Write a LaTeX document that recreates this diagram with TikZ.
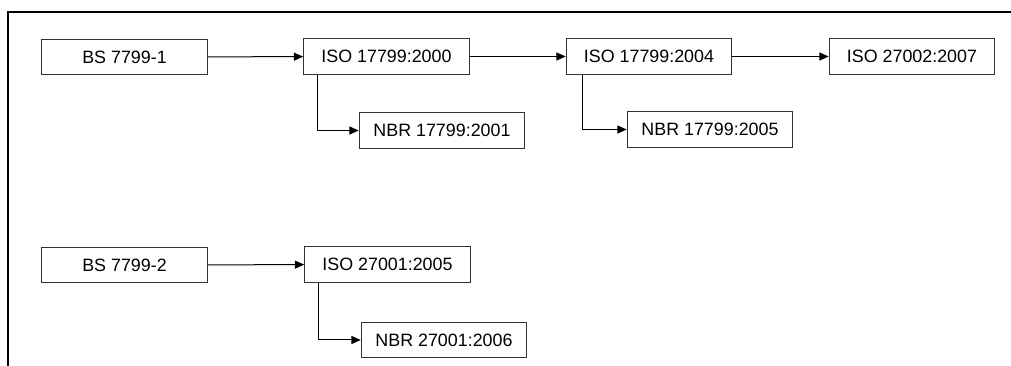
\documentclass[tikz,border=0pt]{standalone}
\usepackage{fontspec}
\setmainfont{Liberation Sans}
\usetikzlibrary{arrows.meta,calc}
\begin{document}
\begin{tikzpicture}[x=0.75pt,y=-0.75pt,
  stdbox/.style={draw=black!80, line width=0.9pt, fill=white, rectangle,
    minimum width=124pt, minimum height=26.5pt, inner sep=0pt,
    font=\fontsize{13.4}{15}\selectfont, text=black},
  link/.style={line width=0.75pt, -{Triangle[length=7pt,width=6pt]}}]
  \useasboundingbox (0,0) rectangle (1011,366);
  % page frame
  \draw[line width=1.1pt] (1011,12) -- (8,12) -- (8,366);

  % first lineage
  \node[stdbox] (bs1)   at (124.5,57)   {BS 7799-1};
  \node[stdbox] (i2000) at (386.5,56.5) {ISO 17799:2000};
  \node[stdbox] (n2001) at (442,130.5)  {NBR 17799:2001};
  \node[stdbox] (i2004) at (649,56.5)   {ISO 17799:2004};
  \node[stdbox] (i27002) at (912,56.5)  {ISO 27002:2007};
  \node[stdbox] (n2005) at (710,129.5)  {NBR 17799:2005};

  % second lineage
  \node[stdbox] (bs2)    at (124.5,265)  {BS 7799-2};
  \node[stdbox] (i27001) at (387.5,264.5){ISO 27001:2005};
  \node[stdbox] (n27001) at (444,340)    {NBR 27001:2006};

  \draw[link] (bs1) -- (i2000);
  \draw[link] (i2000) -- (i2004);
  \draw[link] (i2004) -- (i27002);
  \draw[link] ($(i2000.south west)+(14,0)$) |- (n2001.west);
  \draw[link] ($(i2004.south west)+(17,0)$) |- (n2005.west);

  \draw[link] (bs2) -- (i27001);
  \draw[link] ($(i27001.south west)+(14,0)$) |- (n27001.west);
\end{tikzpicture}
\end{document}
